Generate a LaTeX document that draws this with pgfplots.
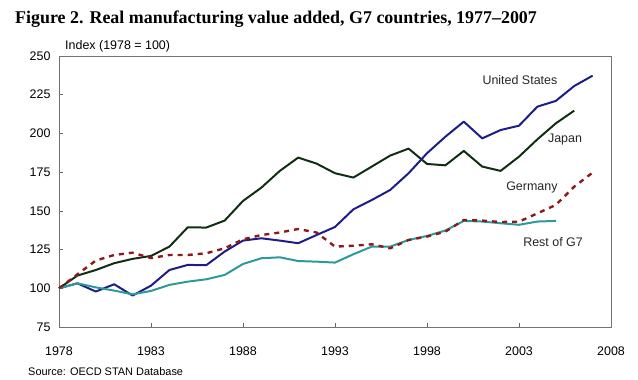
\documentclass[border=0pt]{standalone}
\usepackage{fontspec}
\setmainfont{Liberation Sans}
\newfontfamily\titlefont[Ligatures=TeX]{Liberation Serif}
\usepackage{pgfplots}
\pgfplotsset{compat=1.18}
\definecolor{usblue}{HTML}{1C1C8A}
\definecolor{jpgreen}{HTML}{0F2E12}
\definecolor{dered}{HTML}{8B1A1A}
\definecolor{rgteal}{HTML}{2A9A9A}
\begin{document}
\begin{tikzpicture}
\path[use as bounding box] (-59bp,-53bp) rectangle (579bp,327bp);
\begin{axis}[
  at={(0,0)}, anchor=south west,
  scale only axis, width=552bp, height=271bp,
  xmin=1978, xmax=2008, ymin=75, ymax=250,
  xtick={1978,1983,...,2008}, ytick={75,100,...,250},
  axis line style={draw=black!55, line width=0.9pt},
  tick style={black!60, line width=0.6pt},
  major tick length=4bp,
  tick align=inside, xtick pos=bottom, ytick pos=left,
  xticklabel style={font=\fontsize{12.5}{13}\selectfont, yshift=-16bp},
  yticklabel style={font=\fontsize{12.5}{13}\selectfont, xshift=-5bp},
  /pgf/number format/1000 sep={},
  /pgf/number format/assume math mode=true,
  clip=false,
  every axis plot/.append style={line width=2pt, mark=none, line join=round}
]
\addplot[color=jpgreen] coordinates {
(1978,100) (1979,108.2) (1980,111.8) (1981,116.2) (1982,119) (1983,120.9)
(1984,126.9) (1985,139.4) (1986,139.2) (1987,143.7) (1988,156.4) (1989,165)
(1990,175.8) (1991,184.4) (1992,180.5) (1993,174.3) (1994,171.5) (1995,178.6)
(1996,185.7) (1997,190.2) (1998,180.3) (1999,179.4) (2000,188.7) (2001,178.6)
(2002,175.8) (2003,185) (2004,196.2) (2005,206.5) (2006,214.7)};
\addplot[color=usblue] coordinates {
(1978,100) (1979,103.2) (1980,97.9) (1981,102.6) (1982,95.3) (1983,101.7)
(1984,111.8) (1985,115.1) (1986,114.9) (1987,123.7) (1988,130.8) (1989,132.3)
(1990,130.8) (1991,129.1) (1992,134.4) (1993,139.6) (1994,151) (1995,157)
(1996,163.5) (1997,174.3) (1998,187.2) (1999,197.9) (2000,207.6) (2001,196.8)
(2002,202.2) (2003,205) (2004,217.3) (2005,221) (2006,230.6) (2007,237.3)};
\addplot[color=rgteal] coordinates {
(1978,100) (1979,103.2) (1980,100.6) (1981,98.5) (1982,96.1) (1983,98.3)
(1984,102.2) (1985,104.3) (1986,105.8) (1987,108.6) (1988,115.7) (1989,119.4)
(1990,120) (1991,117.6) (1992,117.2) (1993,116.6) (1994,122) (1995,126.9)
(1996,126.9) (1997,131.2) (1998,133.8) (1999,137.3) (2000,143.5) (2001,143.1)
(2002,142) (2003,141) (2004,143.1) (2005,143.5)};
\addplot[color=dered, line width=2.4pt, dash pattern=on 5bp off 5bp] coordinates {
(1978,100) (1979,109) (1980,117.9) (1981,121.5) (1982,123) (1983,119.5)
(1984,121.5) (1985,121.5) (1986,122.6) (1987,125.8) (1988,131.6) (1989,134.4)
(1990,136) (1991,138.3) (1992,136) (1993,126.9) (1994,127.5) (1995,128.4)
(1996,125.8) (1997,131.2) (1998,133.4) (1999,136.6) (2000,144.1) (2001,143.7)
(2002,142.8) (2003,143) (2004,148.4) (2005,153.8) (2006,165.6) (2007,174.7)};
\begin{scope}[every node/.style={font=\fontsize{12.5}{13}\selectfont, text=black!85}]
\node at (axis cs:2003.05,234.5) {United States};
\node at (axis cs:2005.5,195.8) {Japan};
\node at (axis cs:2003.7,164.8) {Germany};
\node at (axis cs:2004.85,130) {Rest of G7};
\end{scope}
\end{axis}
\node[anchor=west, inner sep=0pt, font=\titlefont\bfseries\fontsize{18}{20}\selectfont] at (-44bp,308bp) {Figure 2. Real manufacturing value added, G7 countries, 1977–2007};
\node[anchor=west, inner sep=0pt, font=\fontsize{12.5}{13}\selectfont] at (6bp,281bp) {Index (1978 = 100)};
\node[anchor=west, inner sep=0pt, font=\fontsize{11}{12}\selectfont] at (-31bp,-45bp) {Source: OECD STAN Database};
\end{tikzpicture}
\end{document}
